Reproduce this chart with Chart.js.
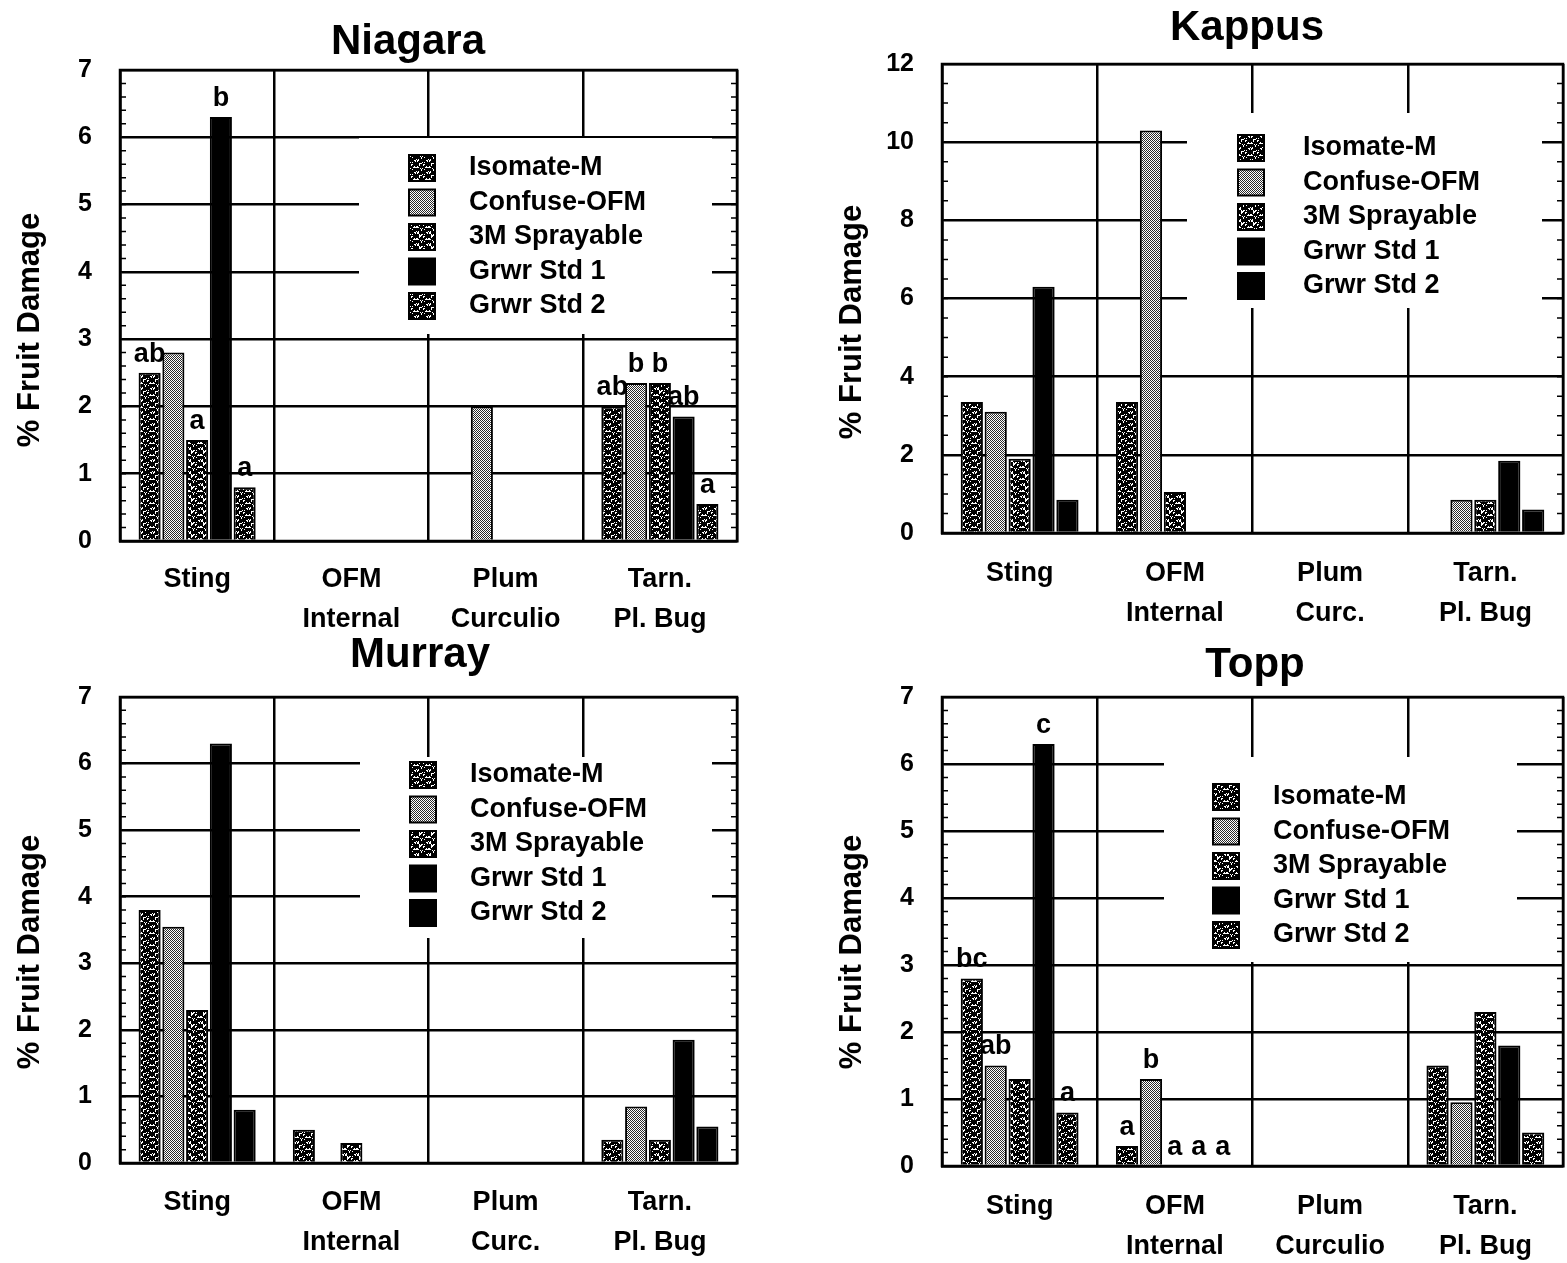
<!DOCTYPE html>
<html>
<head>
<meta charset="utf-8">
<script src="https://cdn.jsdelivr.net/npm/chart.js@4.4.0/dist/chart.umd.min.js"></script>
<style>
  body { margin: 0; background: #fff; width: 1567px; height: 1263px; overflow: hidden; position: relative; }
  canvas { position: absolute; }
</style>
</head>
<body>
<canvas id="niagara" width="760" height="641" style="left:0;top:0"></canvas>
<canvas id="kappus" width="745" height="633" style="left:822px;top:0"></canvas>
<canvas id="murray" width="760" height="653" style="left:0;top:610px"></canvas>
<canvas id="topp" width="745" height="653" style="left:822px;top:610px"></canvas>
<script>
// ===== DATA =====
const seriesNames = ["Isomate-M", "Confuse-OFM", "3M Sprayable", "Grwr Std 1", "Grwr Std 2"];
const categoriesLong = [["Sting"], ["OFM", "Internal"], ["Plum", "Curculio"], ["Tarn.", "Pl. Bug"]];
const categoriesShort = [["Sting"], ["OFM", "Internal"], ["Plum", "Curc."], ["Tarn.", "Pl. Bug"]];
const yAxisTitle = "% Fruit Damage";

// one row per series, columns = Sting, OFM Internal, Plum Curculio, Tarn. Pl. Bug
const niagaraValues = [
  [2.5, 0, 0, 2.0],
  [2.8, 0, 2.0, 2.35],
  [1.5, 0, 0, 2.35],
  [6.3, 0, 0, 1.85],
  [0.8, 0, 0, 0.55]
];
const niagaraLetters = [
  ["ab", "", "", "ab"],
  ["", "", "", "b"],
  ["a", "", "", "b"],
  ["b", "", "", "ab"],
  ["a", "", "", "a"]
];
const kappusValues = [
  [3.35, 3.35, 0, 0],
  [3.1, 10.3, 0, 0.85],
  [1.9, 1.05, 0, 0.85],
  [6.3, 0, 0, 1.85],
  [0.85, 0, 0, 0.6]
];
const murrayValues = [
  [3.8, 0.5, 0, 0.35],
  [3.55, 0, 0, 0.85],
  [2.3, 0.3, 0, 0.35],
  [6.3, 0, 0, 1.85],
  [0.8, 0, 0, 0.55]
];
const toppValues = [
  [2.8, 0.3, 0, 1.5],
  [1.5, 1.3, 0, 0.95],
  [1.3, 0, 0, 2.3],
  [6.3, 0, 0, 1.8],
  [0.8, 0, 0, 0.5]
];
const toppLetters = [
  ["bc", "a", "", ""],
  ["ab", "b", "", ""],
  ["", "a", "", ""],
  ["c", "a", "", ""],
  ["a", "a", "", ""]
];

const FONT = '"Liberation Sans", Arial, Helvetica, sans-serif';

// ===== FILL PATTERNS =====
function makeFill(ctx, kind) {
  if (kind === "solid") return "#000";
  const size = 12;
  const t = document.createElement("canvas");
  t.width = t.height = size;
  const g = t.getContext("2d");
  g.fillStyle = "#fff";
  g.fillRect(0, 0, size, size);
  for (let y = 0; y < size; y++) {
    for (let x = 0; x < size; x++) {
      let on;
      if (kind === "check") {
        on = (x + y) % 2 === 0;
        g.fillStyle = "#2a2a2a";
      } else {
        // fixed hash texture, just for the scanned-speckle look
        const h = (Math.imul(x + 1, 374761393) ^ Math.imul(y + 7, 668265263)) >>> 0;
        const r = ((h ^ (h >>> 13)) % 100);
        on = r < (kind === "speckA" ? 66 : 58);
        g.fillStyle = "#000";
      }
      if (on) g.fillRect(x, y, 1, 1);
    }
  }
  return ctx.createPattern(t, "repeat");
}

// ===== DECORATIONS: letters, legend box, frame, minor ticks, titles =====
const panelDeco = {
  id: "panelDeco",
  afterDatasetsDraw(chart, args, o) {
    const { ctx, chartArea: a, scales: { y } } = chart;
    ctx.save();

    // significance letters above bars
    ctx.font = "bold 27px " + FONT;
    ctx.fillStyle = "#000";
    ctx.textAlign = "center";
    ctx.textBaseline = "bottom";
    (o.letters || []).forEach((row, i) => {
      const meta = chart.getDatasetMeta(i);
      row.forEach((txt, j) => {
        if (!txt) return;
        const bar = meta.data[j];
        ctx.fillText(txt, bar.x, bar.y - 5);
      });
    });

    // legend inside the plot
    const bx = a.left + o.box[0], by = a.top + o.box[1];
    ctx.fillStyle = "#fff";
    ctx.fillRect(bx, by, o.box[2], o.box[3]);
    chart.data.datasets.forEach((ds, i) => {
      const cy = by + o.first + i * 34.5;
      ctx.fillStyle = ds.backgroundColor;
      ctx.fillRect(bx + o.sw, cy - 13, 26, 26);
      ctx.lineWidth = 2;
      ctx.strokeStyle = "#000";
      ctx.strokeRect(bx + o.sw, cy - 13, 26, 26);
      ctx.fillStyle = "#000";
      ctx.font = "bold 27px " + FONT;
      ctx.textAlign = "left";
      ctx.textBaseline = "middle";
      ctx.fillText(ds.label, bx + o.tx, cy);
    });

    // frame
    ctx.lineWidth = 2.5;
    ctx.strokeStyle = "#000";
    ctx.strokeRect(a.left, a.top, a.width, a.height);

    // minor ticks on both sides
    ctx.lineWidth = 1.5;
    const n = Math.round(y.max / o.minor);
    for (let k = 0; k <= n; k++) {
      const py = y.getPixelForValue(k * o.minor);
      ctx.beginPath();
      ctx.moveTo(a.left, py); ctx.lineTo(a.left + 6, py);
      ctx.moveTo(a.right, py); ctx.lineTo(a.right - 6, py);
      ctx.stroke();
    }
    ctx.restore();
  },
  afterDraw(chart, args, o) {
    const ctx = chart.ctx;
    ctx.save();
    ctx.fillStyle = "#000";
    ctx.textAlign = "center";
    ctx.textBaseline = "middle";
    ctx.font = "bold 42px " + FONT;
    ctx.fillText(o.title, o.titleX, o.titleY);
    ctx.translate(o.yTitleX, o.yTitleY);
    ctx.rotate(-Math.PI / 2);
    ctx.font = "bold 31px " + FONT;
    ctx.fillText(yAxisTitle, 0, 0);
    ctx.restore();
  }
};

function buildChart(id, p) {
  const canvas = document.getElementById(id);
  const ctx = canvas.getContext("2d");
  const datasets = seriesNames.map((name, i) => ({
    label: name,
    data: p.values[i],
    backgroundColor: makeFill(ctx, p.fills[i]),
    borderColor: "#000",
    borderWidth: 2,
    borderSkipped: "bottom",
    categoryPercentage: 0.77,
    barPercentage: 0.93
  }));
  const tickFont = { family: FONT, weight: "bold" };
  return new Chart(ctx, {
    type: "bar",
    data: { labels: p.categories, datasets: datasets },
    options: {
      responsive: false,
      animation: false,
      events: [],
      layout: { padding: { top: p.padTop, right: p.padRight, left: 0, bottom: 0 } },
      plugins: {
        legend: { display: false },
        tooltip: { enabled: false },
        title: { display: false },
        panelDeco: {
          letters: p.letters,
          box: p.box, first: p.first, sw: p.sw, tx: p.tx,
          minor: p.minor,
          title: p.title, titleX: p.titleX, titleY: p.titleY,
          yTitleX: 30, yTitleY: p.yTitleY
        }
      },
      scales: {
        x: {
          grid: { color: "#000", lineWidth: 2.5, drawTicks: false, offset: true },
          border: { color: "#000", width: 2.5 },
          ticks: {
            color: "#000",
            font: Object.assign({ size: 27, lineHeight: 1.48 }, tickFont),
            padding: p.xPad,
            maxRotation: 0,
            autoSkip: false
          },
          afterFit: (s) => { s.height = p.xHeight; }
        },
        y: {
          min: 0,
          max: p.yMax,
          ticks: { stepSize: p.yStep, color: "#000", font: Object.assign({ size: 25 }, tickFont), padding: 28 },
          grid: { color: "#000", lineWidth: 2.5, drawTicks: false },
          border: { color: "#000", width: 2.5 },
          afterFit: (s) => { s.width = 120; }
        }
      }
    },
    plugins: [panelDeco]
  });
}

buildChart("niagara", {
  title: "Niagara", titleX: 408, titleY: 42, yTitleY: 330,
  values: niagaraValues, letters: niagaraLetters, categories: categoriesLong,
  fills: ["speckA", "check", "speckB", "solid", "speckA"],
  yMax: 7, yStep: 1, minor: 0.2,
  padTop: 70, padRight: 23, xHeight: 100, xPad: 19,
  box: [239, 68, 353, 196], first: 30, sw: 50, tx: 110
});
buildChart("kappus", {
  title: "Kappus", titleX: 425, titleY: 28, yTitleY: 322,
  values: kappusValues, letters: null, categories: categoriesShort,
  fills: ["speckA", "check", "speckB", "solid", "solid"],
  yMax: 12, yStep: 2, minor: 0.5,
  padTop: 64, padRight: 4, xHeight: 100, xPad: 21,
  box: [245, 49, 355, 195], first: 35, sw: 51, tx: 116
});
buildChart("murray", {
  title: "Murray", titleX: 420, titleY: 45, yTitleY: 342,
  values: murrayValues, letters: null, categories: categoriesShort,
  fills: ["speckA", "check", "speckB", "solid", "solid"],
  yMax: 7, yStep: 1, minor: 0.2,
  padTop: 87, padRight: 23, xHeight: 100, xPad: 20,
  box: [240, 60, 352, 181], first: 18, sw: 50, tx: 110
});
buildChart("topp", {
  title: "Topp", titleX: 433, titleY: 55, yTitleY: 342,
  values: toppValues, letters: toppLetters, categories: categoriesLong,
  fills: ["speckA", "check", "speckB", "solid", "speckA"],
  yMax: 7, yStep: 1, minor: 0.2,
  padTop: 87, padRight: 4, xHeight: 97, xPad: 21,
  box: [222, 60, 353, 205], first: 40, sw: 49, tx: 109
});
</script>
</body>
</html>
